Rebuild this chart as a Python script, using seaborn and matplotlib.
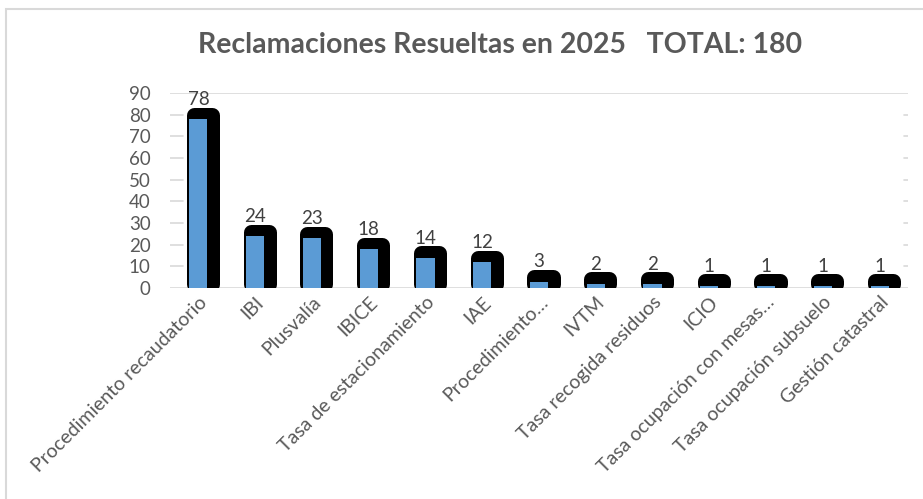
import numpy as np
import pandas as pd
import matplotlib
matplotlib.use("Agg")
import matplotlib.pyplot as plt
import matplotlib.patheffects as pe
from matplotlib.patches import Rectangle
import seaborn as sns

# datos
categorias = [
    "Procedimiento recaudatorio", "IBI", "Plusvalía", "IBICE",
    "Tasa de estacionamiento", "IAE", "Procedimiento…", "IVTM",
    "Tasa recogida residuos", "ICIO", "Tasa ocupación con mesas…",
    "Tasa ocupación subsuelo", "Gestión catastral",
]
valores = [78, 24, 23, 18, 14, 12, 3, 2, 2, 1, 1, 1, 1]
y_ticks = [0, 10, 20, 30, 40, 50, 60, 70, 80, 90]
titulo = "Reclamaciones Resueltas en 2025   TOTAL: 180"

df = pd.DataFrame({"cat": categorias, "n": valores})

sns.set_style("white")
plt.rcParams["font.family"] = ["Lato", "DejaVu Sans"]

GRIS = "#595959"
AZUL = "#5B9BD5"

W, H = 923, 499
fig = plt.figure(figsize=(W / 100, H / 100), dpi=100)
ax = fig.add_axes([170 / W, 1 - 288 / H, 738 / W, 195 / H])

# marco exterior
fig.patches.append(Rectangle((6 / W, -0.05), 1.2, 1 - 9 / H + 0.05,
                             transform=fig.transFigure, fill=False,
                             edgecolor="#D9D9D9", linewidth=1.5))

sns.barplot(data=df, x="cat", y="n", color=AZUL, saturation=1,
            width=0.32, ax=ax, linewidth=0)

# sombra negra redondeada detrás de cada barra
sombra = [pe.Stroke(offset=(3.2, 3.2), linewidth=10.8, foreground="black",
                    joinstyle="round"), pe.Normal()]
for p in ax.patches:
    p.set_path_effects(sombra)

ax.set_ylim(0, 90)
ax.set_xlim(-0.5, len(categorias) - 0.5)
ax.set_yticks(y_ticks)
ax.set_xlabel("")
ax.set_ylabel("")

# líneas de cuadrícula (solo trazos en los bordes, como en el original)
for y in y_ticks:
    if y in (0, 90):
        ax.axhline(y, color="#D9D9D9", linewidth=1.2, zorder=0)
    else:
        ax.axhline(y, xmin=0, xmax=0.018, color="#D9D9D9", linewidth=1.2, zorder=0)
        ax.axhline(y, xmin=0.994, xmax=1, color="#D9D9D9", linewidth=1.2, zorder=0)

for s in ax.spines.values():
    s.set_visible(False)

ax.tick_params(axis="y", length=0, pad=14, labelsize=13.5, labelcolor=GRIS)
ax.tick_params(axis="x", length=0, pad=4, labelsize=14, labelcolor=GRIS)
plt.setp(ax.get_xticklabels(), rotation=45, ha="right", va="top",
         rotation_mode="anchor")

ax.bar_label(ax.containers[0], padding=8, fontsize=13.5, color="#404040")

fig.text(500 / W, 1 - 45 / H, titulo, ha="center", va="center",
         fontsize=20.5, fontweight="bold", color=GRIS)

fig.savefig("out.png", dpi=100)
